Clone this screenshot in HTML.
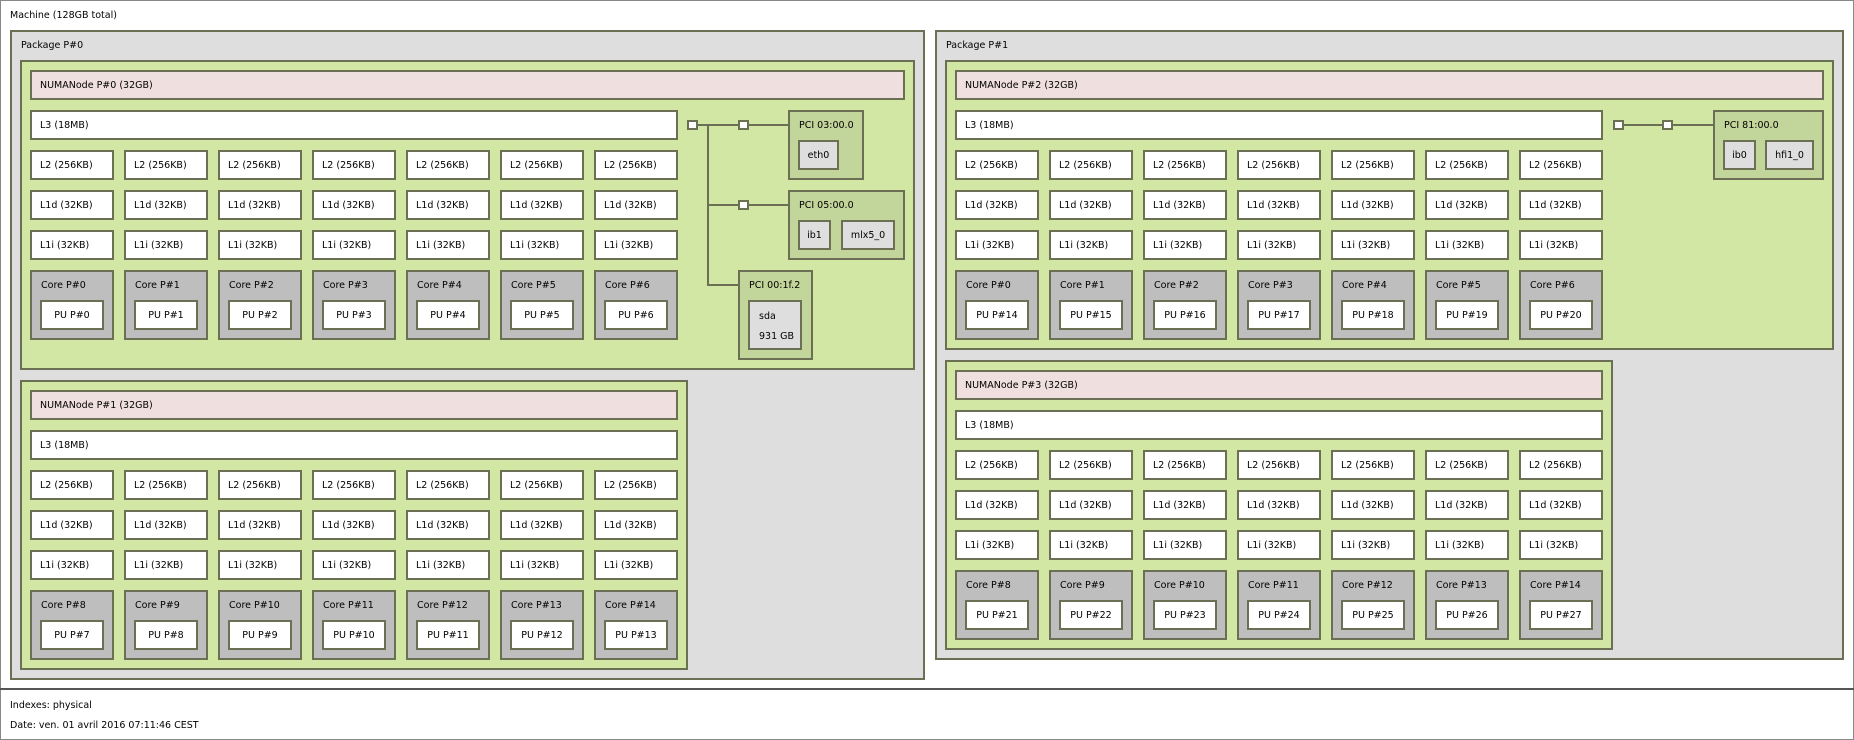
<!DOCTYPE html>
<html><head><meta charset="utf-8"><style>
body{margin:0;width:1854px;height:740px;position:relative;background:#fff;overflow:hidden;font-family:"DejaVu Sans","Liberation Sans",sans-serif;font-size:9.5px;color:#000}
div{position:absolute;box-sizing:border-box}
.b{border:2px solid #6b7055}
.t{padding-left:8px;line-height:28px;white-space:nowrap}
.l{padding:8px 0 0 9px;line-height:12px;white-space:nowrap}
.pk{background:#dedede}
.g{background:#d2e7a4}
.n{background:#efdfde;height:30px}
.c{background:#fff;width:84px;height:30px}
.w{background:#fff;height:30px}
.co{background:#bebebe;width:84px;height:70px}
.pu{background:#fff;width:64px;height:30px;text-align:center;line-height:27px}
.pci{background:#c2d59a}
.os{background:#dedede;text-align:center;line-height:28px}
.sq{background:#fff;width:11px;height:10px;border:2px solid #6b7055}
.hl{height:2px;background:#6b7055}
.vl{width:2px;background:#6b7055}
</style></head><body>
<div style="left:0;top:0;width:1854px;height:740px;border:1px solid #888"></div>
<div style="left:10px;top:10px;line-height:12px">Machine (128GB total)</div>
<div style="left:0;top:688px;width:1854px;height:2px;background:#555"></div>
<div style="left:10px;top:700px;line-height:12px">Indexes: physical</div>
<div style="left:10px;top:720px;line-height:12px">Date: ven. 01 avril 2016 07:11:46 CEST</div>

<!-- Package 0 -->
<div class="b pk l" style="left:10px;top:30px;width:915px;height:650px">Package P#0</div>
<div class="b g" style="left:20px;top:60px;width:895px;height:310px"></div>
<div class="b n t" style="left:30px;top:70px;width:875px">NUMANode P#0 (32GB)</div>
<div class="b w t" style="left:30px;top:110px;width:648px">L3 (18MB)</div>
<div class="b c t" style="left:30px;top:150px">L2 (256KB)</div><div class="b c t" style="left:124px;top:150px">L2 (256KB)</div><div class="b c t" style="left:218px;top:150px">L2 (256KB)</div><div class="b c t" style="left:312px;top:150px">L2 (256KB)</div><div class="b c t" style="left:406px;top:150px">L2 (256KB)</div><div class="b c t" style="left:500px;top:150px">L2 (256KB)</div><div class="b c t" style="left:594px;top:150px">L2 (256KB)</div>
<div class="b c t" style="left:30px;top:190px">L1d (32KB)</div><div class="b c t" style="left:124px;top:190px">L1d (32KB)</div><div class="b c t" style="left:218px;top:190px">L1d (32KB)</div><div class="b c t" style="left:312px;top:190px">L1d (32KB)</div><div class="b c t" style="left:406px;top:190px">L1d (32KB)</div><div class="b c t" style="left:500px;top:190px">L1d (32KB)</div><div class="b c t" style="left:594px;top:190px">L1d (32KB)</div>
<div class="b c t" style="left:30px;top:230px">L1i (32KB)</div><div class="b c t" style="left:124px;top:230px">L1i (32KB)</div><div class="b c t" style="left:218px;top:230px">L1i (32KB)</div><div class="b c t" style="left:312px;top:230px">L1i (32KB)</div><div class="b c t" style="left:406px;top:230px">L1i (32KB)</div><div class="b c t" style="left:500px;top:230px">L1i (32KB)</div><div class="b c t" style="left:594px;top:230px">L1i (32KB)</div>
<div class="b co l" style="left:30px;top:270px">Core P#0</div><div class="b co l" style="left:124px;top:270px">Core P#1</div><div class="b co l" style="left:218px;top:270px">Core P#2</div><div class="b co l" style="left:312px;top:270px">Core P#3</div><div class="b co l" style="left:406px;top:270px">Core P#4</div><div class="b co l" style="left:500px;top:270px">Core P#5</div><div class="b co l" style="left:594px;top:270px">Core P#6</div>
<div class="b pu" style="left:40px;top:300px">PU P#0</div><div class="b pu" style="left:134px;top:300px">PU P#1</div><div class="b pu" style="left:228px;top:300px">PU P#2</div><div class="b pu" style="left:322px;top:300px">PU P#3</div><div class="b pu" style="left:416px;top:300px">PU P#4</div><div class="b pu" style="left:510px;top:300px">PU P#5</div><div class="b pu" style="left:604px;top:300px">PU P#6</div>
<!-- PCI P0 -->
<div class="hl" style="left:697px;top:124px;width:91px"></div>
<div class="vl" style="left:707px;top:124px;height:161px"></div>
<div class="hl" style="left:707px;top:204px;width:81px"></div>
<div class="hl" style="left:707px;top:284px;width:31px"></div>
<div class="sq" style="left:687px;top:120px"></div>
<div class="sq" style="left:738px;top:120px"></div>
<div class="sq" style="left:738px;top:200px"></div>
<div class="b pci l" style="left:788px;top:110px;width:76px;height:70px">PCI 03:00.0</div>
<div class="b os" style="left:798px;top:140px;width:41px;height:30px">eth0</div>
<div class="b pci l" style="left:788px;top:190px;width:117px;height:70px">PCI 05:00.0</div>
<div class="b os" style="left:798px;top:220px;width:33px;height:30px">ib1</div>
<div class="b os" style="left:841px;top:220px;width:54px;height:30px">mlx5_0</div>
<div class="b pci l" style="left:738px;top:270px;width:75px;height:90px">PCI 00:1f.2</div>
<div class="b os" style="left:748px;top:300px;width:54px;height:50px;text-align:left;padding-left:9px;line-height:20px;padding-top:5px">sda<br>931 GB</div>

<!-- NUMA 1 -->
<div class="b g" style="left:20px;top:380px;width:668px;height:290px"></div>
<div class="b n t" style="left:30px;top:390px;width:648px">NUMANode P#1 (32GB)</div>
<div class="b w t" style="left:30px;top:430px;width:648px">L3 (18MB)</div>
<div class="b c t" style="left:30px;top:470px">L2 (256KB)</div><div class="b c t" style="left:124px;top:470px">L2 (256KB)</div><div class="b c t" style="left:218px;top:470px">L2 (256KB)</div><div class="b c t" style="left:312px;top:470px">L2 (256KB)</div><div class="b c t" style="left:406px;top:470px">L2 (256KB)</div><div class="b c t" style="left:500px;top:470px">L2 (256KB)</div><div class="b c t" style="left:594px;top:470px">L2 (256KB)</div>
<div class="b c t" style="left:30px;top:510px">L1d (32KB)</div><div class="b c t" style="left:124px;top:510px">L1d (32KB)</div><div class="b c t" style="left:218px;top:510px">L1d (32KB)</div><div class="b c t" style="left:312px;top:510px">L1d (32KB)</div><div class="b c t" style="left:406px;top:510px">L1d (32KB)</div><div class="b c t" style="left:500px;top:510px">L1d (32KB)</div><div class="b c t" style="left:594px;top:510px">L1d (32KB)</div>
<div class="b c t" style="left:30px;top:550px">L1i (32KB)</div><div class="b c t" style="left:124px;top:550px">L1i (32KB)</div><div class="b c t" style="left:218px;top:550px">L1i (32KB)</div><div class="b c t" style="left:312px;top:550px">L1i (32KB)</div><div class="b c t" style="left:406px;top:550px">L1i (32KB)</div><div class="b c t" style="left:500px;top:550px">L1i (32KB)</div><div class="b c t" style="left:594px;top:550px">L1i (32KB)</div>
<div class="b co l" style="left:30px;top:590px">Core P#8</div><div class="b co l" style="left:124px;top:590px">Core P#9</div><div class="b co l" style="left:218px;top:590px">Core P#10</div><div class="b co l" style="left:312px;top:590px">Core P#11</div><div class="b co l" style="left:406px;top:590px">Core P#12</div><div class="b co l" style="left:500px;top:590px">Core P#13</div><div class="b co l" style="left:594px;top:590px">Core P#14</div>
<div class="b pu" style="left:40px;top:620px">PU P#7</div><div class="b pu" style="left:134px;top:620px">PU P#8</div><div class="b pu" style="left:228px;top:620px">PU P#9</div><div class="b pu" style="left:322px;top:620px">PU P#10</div><div class="b pu" style="left:416px;top:620px">PU P#11</div><div class="b pu" style="left:510px;top:620px">PU P#12</div><div class="b pu" style="left:604px;top:620px">PU P#13</div>

<!-- Package 1 -->
<div class="b pk l" style="left:935px;top:30px;width:909px;height:630px">Package P#1</div>
<div class="b g" style="left:945px;top:60px;width:889px;height:290px"></div>
<div class="b n t" style="left:955px;top:70px;width:869px">NUMANode P#2 (32GB)</div>
<div class="b w t" style="left:955px;top:110px;width:648px">L3 (18MB)</div>
<div class="b c t" style="left:955px;top:150px">L2 (256KB)</div><div class="b c t" style="left:1049px;top:150px">L2 (256KB)</div><div class="b c t" style="left:1143px;top:150px">L2 (256KB)</div><div class="b c t" style="left:1237px;top:150px">L2 (256KB)</div><div class="b c t" style="left:1331px;top:150px">L2 (256KB)</div><div class="b c t" style="left:1425px;top:150px">L2 (256KB)</div><div class="b c t" style="left:1519px;top:150px">L2 (256KB)</div>
<div class="b c t" style="left:955px;top:190px">L1d (32KB)</div><div class="b c t" style="left:1049px;top:190px">L1d (32KB)</div><div class="b c t" style="left:1143px;top:190px">L1d (32KB)</div><div class="b c t" style="left:1237px;top:190px">L1d (32KB)</div><div class="b c t" style="left:1331px;top:190px">L1d (32KB)</div><div class="b c t" style="left:1425px;top:190px">L1d (32KB)</div><div class="b c t" style="left:1519px;top:190px">L1d (32KB)</div>
<div class="b c t" style="left:955px;top:230px">L1i (32KB)</div><div class="b c t" style="left:1049px;top:230px">L1i (32KB)</div><div class="b c t" style="left:1143px;top:230px">L1i (32KB)</div><div class="b c t" style="left:1237px;top:230px">L1i (32KB)</div><div class="b c t" style="left:1331px;top:230px">L1i (32KB)</div><div class="b c t" style="left:1425px;top:230px">L1i (32KB)</div><div class="b c t" style="left:1519px;top:230px">L1i (32KB)</div>
<div class="b co l" style="left:955px;top:270px">Core P#0</div><div class="b co l" style="left:1049px;top:270px">Core P#1</div><div class="b co l" style="left:1143px;top:270px">Core P#2</div><div class="b co l" style="left:1237px;top:270px">Core P#3</div><div class="b co l" style="left:1331px;top:270px">Core P#4</div><div class="b co l" style="left:1425px;top:270px">Core P#5</div><div class="b co l" style="left:1519px;top:270px">Core P#6</div>
<div class="b pu" style="left:965px;top:300px">PU P#14</div><div class="b pu" style="left:1059px;top:300px">PU P#15</div><div class="b pu" style="left:1153px;top:300px">PU P#16</div><div class="b pu" style="left:1247px;top:300px">PU P#17</div><div class="b pu" style="left:1341px;top:300px">PU P#18</div><div class="b pu" style="left:1435px;top:300px">PU P#19</div><div class="b pu" style="left:1529px;top:300px">PU P#20</div>
<!-- PCI P1 -->
<div class="hl" style="left:1623px;top:124px;width:90px"></div>
<div class="sq" style="left:1613px;top:120px"></div>
<div class="sq" style="left:1662px;top:120px"></div>
<div class="b pci l" style="left:1713px;top:110px;width:111px;height:70px">PCI 81:00.0</div>
<div class="b os" style="left:1723px;top:140px;width:33px;height:30px">ib0</div>
<div class="b os" style="left:1765px;top:140px;width:49px;height:30px">hfi1_0</div>

<!-- NUMA 3 -->
<div class="b g" style="left:945px;top:360px;width:668px;height:290px"></div>
<div class="b n t" style="left:955px;top:370px;width:648px">NUMANode P#3 (32GB)</div>
<div class="b w t" style="left:955px;top:410px;width:648px">L3 (18MB)</div>
<div class="b c t" style="left:955px;top:450px">L2 (256KB)</div><div class="b c t" style="left:1049px;top:450px">L2 (256KB)</div><div class="b c t" style="left:1143px;top:450px">L2 (256KB)</div><div class="b c t" style="left:1237px;top:450px">L2 (256KB)</div><div class="b c t" style="left:1331px;top:450px">L2 (256KB)</div><div class="b c t" style="left:1425px;top:450px">L2 (256KB)</div><div class="b c t" style="left:1519px;top:450px">L2 (256KB)</div>
<div class="b c t" style="left:955px;top:490px">L1d (32KB)</div><div class="b c t" style="left:1049px;top:490px">L1d (32KB)</div><div class="b c t" style="left:1143px;top:490px">L1d (32KB)</div><div class="b c t" style="left:1237px;top:490px">L1d (32KB)</div><div class="b c t" style="left:1331px;top:490px">L1d (32KB)</div><div class="b c t" style="left:1425px;top:490px">L1d (32KB)</div><div class="b c t" style="left:1519px;top:490px">L1d (32KB)</div>
<div class="b c t" style="left:955px;top:530px">L1i (32KB)</div><div class="b c t" style="left:1049px;top:530px">L1i (32KB)</div><div class="b c t" style="left:1143px;top:530px">L1i (32KB)</div><div class="b c t" style="left:1237px;top:530px">L1i (32KB)</div><div class="b c t" style="left:1331px;top:530px">L1i (32KB)</div><div class="b c t" style="left:1425px;top:530px">L1i (32KB)</div><div class="b c t" style="left:1519px;top:530px">L1i (32KB)</div>
<div class="b co l" style="left:955px;top:570px">Core P#8</div><div class="b co l" style="left:1049px;top:570px">Core P#9</div><div class="b co l" style="left:1143px;top:570px">Core P#10</div><div class="b co l" style="left:1237px;top:570px">Core P#11</div><div class="b co l" style="left:1331px;top:570px">Core P#12</div><div class="b co l" style="left:1425px;top:570px">Core P#13</div><div class="b co l" style="left:1519px;top:570px">Core P#14</div>
<div class="b pu" style="left:965px;top:600px">PU P#21</div><div class="b pu" style="left:1059px;top:600px">PU P#22</div><div class="b pu" style="left:1153px;top:600px">PU P#23</div><div class="b pu" style="left:1247px;top:600px">PU P#24</div><div class="b pu" style="left:1341px;top:600px">PU P#25</div><div class="b pu" style="left:1435px;top:600px">PU P#26</div><div class="b pu" style="left:1529px;top:600px">PU P#27</div>
</body></html>
